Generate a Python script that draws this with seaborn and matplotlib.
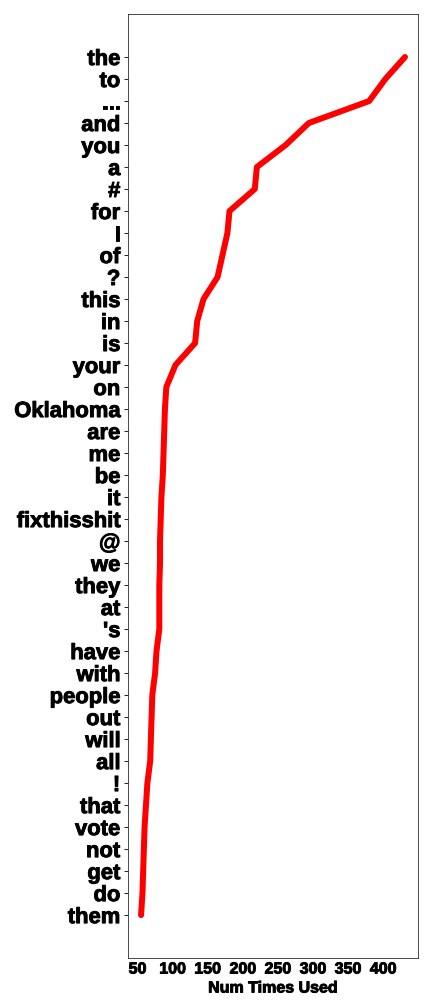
import matplotlib
matplotlib.use("Agg")
import matplotlib.pyplot as plt
import matplotlib.patheffects as pe
import seaborn as sns

# Most used words, top to bottom
words = ['the', 'to', '...', 'and', 'you', 'a', '#', 'for', 'I', 'of', '?',
         'this', 'in', 'is', 'your', 'on', 'Oklahoma', 'are', 'me', 'be', 'it',
         'fixthisshit', '@', 'we', 'they', 'at', "'s", 'have', 'with', 'people',
         'out', 'will', 'all', '!', 'that', 'vote', 'not', 'get', 'do', 'them']
counts = [431, 403, 380, 294, 261, 220, 217, 181, 178, 171, 164,
          144, 135, 132, 104, 91, 89, 88, 87, 86, 84,
          83, 82, 82, 81, 81, 81, 77, 75, 71,
          70, 69, 68, 64, 62, 60, 59, 58, 57, 55]
x_ticks = [50, 100, 150, 200, 250, 300, 350, 400]

sns.set_style('white')
plt.rcParams['font.family'] = ['Liberation Sans', 'DejaVu Sans']

fig, ax = plt.subplots(figsize=(6, 14), dpi=72)
fig.subplots_adjust(left=0.296, right=0.968, top=0.986, bottom=0.0496)

# seaborn already puts the first category at the top for a categorical y
sns.lineplot(x=counts, y=words, sort=False, estimator=None,
             color='red', linewidth=6, ax=ax)

ax.set_xticks(x_ticks)
ax.set_xlabel('Num Times Used', fontsize=16, fontweight='bold', color='black')
ax.tick_params(axis='x', length=0, labelsize=16, labelcolor='black')
ax.tick_params(axis='y', left=True, length=4, width=1, labelsize=22,
               labelcolor='black')

# the original text is a bit heavier than plain bold
heavy = [pe.withStroke(linewidth=0.9, foreground='black')]
for lab in ax.get_xticklabels() + ax.get_yticklabels() + [ax.xaxis.label]:
    lab.set_fontweight('bold')
    lab.set_path_effects(heavy)
for s in ax.spines.values():
    s.set_color('#222222')

fig.savefig('out.png', dpi=72)
